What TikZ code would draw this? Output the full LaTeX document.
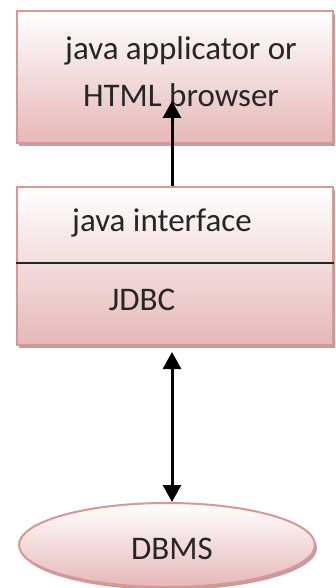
\documentclass[tikz,border=0pt]{standalone}
\usepackage{fontspec}
\setmainfont{Carlito}
\usetikzlibrary{arrows.meta,shapes.geometric,shadows}

\definecolor{rosefill}{RGB}{230,184,183}
\definecolor{roseline}{RGB}{217,150,148}
\definecolor{roseshadow}{RGB}{190,160,160}

\tikzset{
  layer/.style={draw=roseline, line width=2pt, top color=white, bottom color=rosefill,
    drop shadow={shadow xshift=2pt, shadow yshift=-3pt, fill=roseshadow, opacity=1}},
  lbl/.style={text=black!85, font=\fontsize{33}{47}\selectfont, align=center, inner sep=0pt},
  tip/.tip={Triangle[length=17pt,width=18pt]},
  flow/.style={line width=3pt, -tip}
}

\begin{document}
\begin{tikzpicture}[x=1pt,y=-1pt]
\useasboundingbox (0,0) rectangle (336,588);

% application box on top
\node[layer, minimum width=316pt, minimum height=132pt] (app) at (175,77) {};
\node[lbl] (apptext) at (181,72) {java applicator or\\HTML browser};
\coordinate (apptip) at (172,101);

% interface box with JDBC part
\node[layer, minimum width=316pt, minimum height=158pt] (iface) at (175,266) {};
\draw[black!85, line width=1.3pt] (iface.west |- 0,263) -- (iface.east |- 0,263);
\node[lbl] (ifacetext) at (162,223) {java interface};
\node[lbl] (jdbc) at (142,300) {JDBC};

% database
\node[layer, ellipse, minimum width=296pt, minimum height=84pt] (dbms) at (167,545) {};
\node[lbl] (dbmstext) at (172,549) {DBMS};

\draw[flow] ([xshift=-3pt]iface.north) -- (apptip);
\draw[flow, tip-tip, shorten <=6pt]
  ([xshift=-3pt]iface.south) -- ([xshift=5pt]dbms.north);
\end{tikzpicture}
\end{document}
